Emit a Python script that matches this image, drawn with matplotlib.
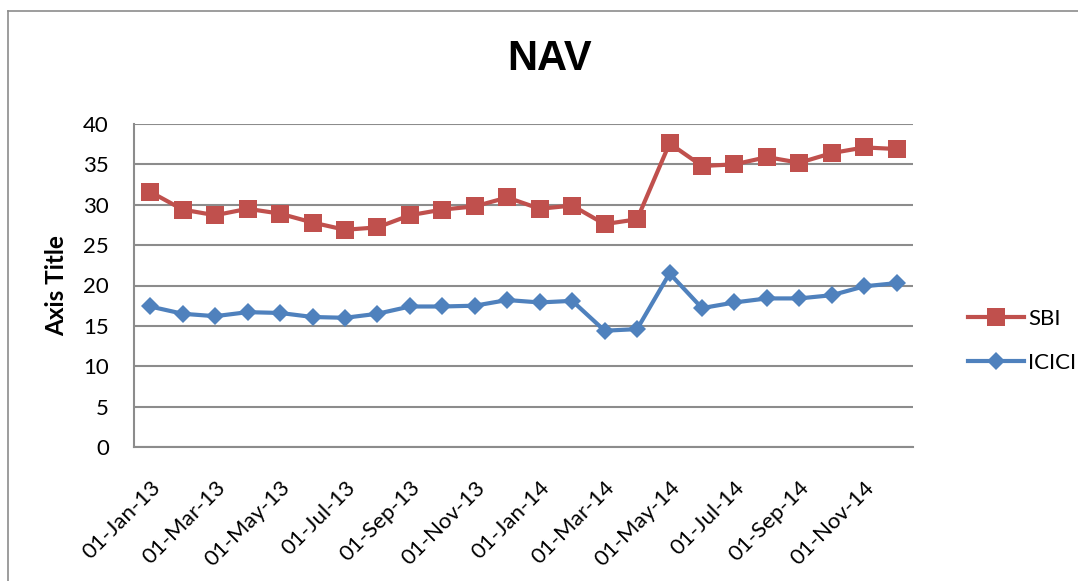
import pandas as pd
import matplotlib
matplotlib.use("Agg")
import matplotlib.pyplot as plt
from matplotlib.lines import Line2D

# monthly NAV values, Jan-13 .. Dec-14
months = pd.date_range("2013-01-01", periods=24, freq="MS")
month_labels = [d.strftime("%d-%b-%y") for d in months]

sbi = [31.6, 29.4, 28.7, 29.5, 28.9, 27.8, 26.9, 27.2, 28.7, 29.4, 29.8, 30.9,
       29.5, 29.9, 27.6, 28.2, 37.6, 34.8, 35.0, 35.9, 35.2, 36.4, 37.1, 36.9]
icici = [17.4, 16.5, 16.2, 16.7, 16.6, 16.1, 16.0, 16.5, 17.4, 17.4, 17.5, 18.2,
         17.9, 18.1, 14.4, 14.6, 21.5, 17.2, 17.9, 18.4, 18.4, 18.8, 19.9, 20.3]

yticks = [0, 5, 10, 15, 20, 25, 30, 35, 40]

plt.rcParams['font.family'] = ['Lato', 'DejaVu Sans']

red = '#C0504D'
blue = '#4F81BD'
gridc = '#8c8c8c'

fig = plt.figure(figsize=[10.78, 5.81], dpi=100)
ax = fig.add_axes([134/1078, 1-447/581, (913-134)/1078, (447-124)/581])

x = list(range(len(months)))
ax.plot(x, sbi, color=red, linewidth=3, marker='s', markersize=13.5,
        markeredgewidth=0, label='SBI', zorder=3)
ax.plot(x, icici, color=blue, linewidth=3, marker='D', markersize=9.5,
        markeredgewidth=0, label='ICICI', zorder=3)

ax.set_xlim(-0.5, len(months) - 0.5)
ax.set_ylim(0, 40)
ax.set_yticks(yticks)
ax.set_xticks(x[::2])
ax.set_xticklabels(month_labels[::2], rotation=45, ha='right',
                   rotation_mode='anchor')
ax.tick_params(axis='both', length=0, labelsize=16)
ax.tick_params(axis='y', pad=18)
ax.tick_params(axis='x', pad=22)

ax.grid(axis='y', color=gridc, linewidth=1.5)
ax.set_axisbelow(True)
for s in ['top', 'right']:
    ax.spines[s].set_visible(False)
for s in ['left', 'bottom']:
    ax.spines[s].set_color(gridc)
    ax.spines[s].set_linewidth(1.5)

ax.set_ylabel('Axis Title', fontsize=17.5, fontweight='bold')
ax.yaxis.set_label_coords(-(134-68)/779, 0.5)
fig.text(550/1078, 1-59/581, 'NAV', fontsize=30, fontweight='bold',
         family='Liberation Sans', ha='center', va='center')

# legend: SBI on top, ICICI below
fig.legend(loc='center left', bbox_to_anchor=(948/1078, 1-341/581),
           fontsize=16, frameon=False, handlelength=2.5, handletextpad=0.2,
           labelspacing=1.1)

# outer chart border
fig.add_artist(Line2D([8/1078, 1], [1-11/581, 1-11/581], color='#8c8c8c',
                      linewidth=1.2, transform=fig.transFigure))
fig.add_artist(Line2D([8/1078, 8/1078], [1-11/581, 0], color='#8c8c8c',
                      linewidth=1.2, transform=fig.transFigure))

plt.savefig('out.png', dpi=100)
